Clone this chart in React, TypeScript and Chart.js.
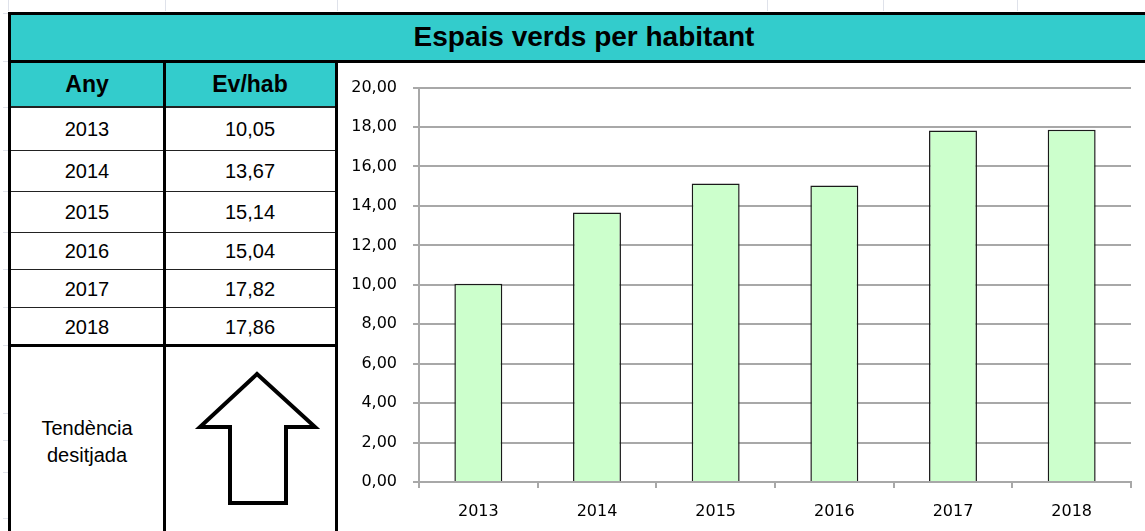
import React, { useEffect, useRef } from "react";
import { Chart, registerables } from "chart.js";

Chart.register(...registerables);

const title = "Espais verds per habitant";
const headerYear = "Any";
const headerValue = "Ev/hab";
const years = ["2013", "2014", "2015", "2016", "2017", "2018"];
const values = [10.05, 13.67, 15.14, 15.04, 17.82, 17.86];
const trendLabel = ["Tendència", "desitjada"];
const yMin = 0;
const yMax = 20;
const yStep = 2;

const fmt = (v: number) => v.toFixed(2).replace(".", ",");

const TABLE_FONT = "'Liberation Sans', Arial, sans-serif";
const CHART_FONT = "'DejaVu Sans', Verdana, sans-serif";
const TEAL = "#33CCCC";

const rowEdges = [107, 150, 191, 232, 269, 307, 345];

function Line(props: { x: number; y: number; w: number; h: number; c?: string }) {
  return (
    <div
      style={{
        position: "absolute",
        left: props.x,
        top: props.y,
        width: props.w,
        height: props.h,
        background: props.c || "#000",
      }}
    />
  );
}

function Cell(props: {
  x: number;
  y: number;
  w: number;
  h: number;
  children: React.ReactNode;
  size: number;
  bold?: boolean;
  lh?: number;
  pt?: number;
}) {
  return (
    <div
      style={{
        position: "absolute",
        left: props.x,
        top: props.y,
        width: props.w,
        height: props.h,
        boxSizing: "border-box",
        paddingTop: props.pt || 0,
        display: "flex",
        alignItems: "center",
        justifyContent: "center",
        textAlign: "center",
        fontFamily: TABLE_FONT,
        fontSize: props.size,
        fontWeight: props.bold ? 700 : 400,
        lineHeight: props.lh ? props.lh + "px" : "normal",
        color: "#000",
        whiteSpace: "nowrap",
      }}
    >
      {props.children}
    </div>
  );
}

export default function App() {
  const canvasRef = useRef<HTMLCanvasElement | null>(null);

  useEffect(() => {
    if (!canvasRef.current) return;
    const chart = new Chart(canvasRef.current, {
      type: "bar",
      data: {
        labels: years,
        datasets: [
          {
            data: values,
            backgroundColor: "#CCFFCC",
            borderColor: "#1a1a1a",
            borderWidth: 1.5,
            barPercentage: 0.404,
            categoryPercentage: 1,
          },
        ],
      },
      options: {
        responsive: false,
        animation: false,
        devicePixelRatio: 1,
        layout: { padding: { top: 25, right: 14, left: 0, bottom: 0 } },
        plugins: {
          legend: { display: false },
          tooltip: { enabled: false },
          title: { display: false },
        },
        scales: {
          x: {
            offset: true,
            grid: {
              display: true,
              offset: true,
              drawOnChartArea: false,
              drawTicks: true,
              tickLength: 6,
              color: "#a8a8a8",
              lineWidth: 2,
            },
            border: { display: true, color: "#a8a8a8", width: 2 },
            ticks: {
              font: { family: CHART_FONT, size: 16 },
              color: "#000",
              padding: 14,
              maxRotation: 0,
            },
            afterFit: (scale: any) => {
              scale.height = 49;
            },
          },
          y: {
            min: yMin,
            max: yMax,
            grid: {
              color: "#a8a8a8",
              lineWidth: 2,
              tickLength: 6,
              drawTicks: true,
            },
            border: { display: true, color: "#a8a8a8", width: 2 },
            ticks: {
              stepSize: yStep,
              font: { family: CHART_FONT, size: 16 },
              color: "#000",
              padding: 16,
              callback: (v: any) => fmt(Number(v)),
            },
            afterFit: (scale: any) => {
              scale.width = 81;
            },
          },
        },
      },
    });
    return () => chart.destroy();
  }, []);

  const faint = "#dfe2ea";

  return (
    <div
      style={{
        position: "absolute",
        left: 0,
        top: 0,
        width: 1145,
        height: 531,
        overflow: "hidden",
        background: "#fff",
      }}
    >
      {/* faint spreadsheet marks */}
      {[8, 165, 337, 767, 883, 1017].map((x) => (
        <Line key={"v" + x} x={x} y={0} w={1} h={11} c={faint} />
      ))}
      {[13, 61, 107, 150, 191, 232, 269, 307, 345, 413, 440, 472, 518].map((y) => (
        <Line key={"h" + y} x={3} y={y} w={5} h={1} c={faint} />
      ))}

      {/* title bar */}
      <div
        style={{
          position: "absolute",
          left: 8,
          top: 12,
          width: 1160,
          height: 50,
          background: TEAL,
        }}
      />
      <div
        style={{
          position: "absolute",
          left: 384,
          top: 14,
          width: 400,
          height: 46,
          display: "flex",
          alignItems: "center",
          justifyContent: "center",
          fontFamily: TABLE_FONT,
          fontWeight: 700,
          fontSize: 28,
          color: "#000",
          whiteSpace: "nowrap",
        }}
      >
        {title}
      </div>

      {/* header cells */}
      <div style={{ position: "absolute", left: 8, top: 62, width: 328, height: 45, background: TEAL }} />
      <Cell x={11} y={62} w={152} h={45} size={23} bold>
        {headerYear}
      </Cell>
      <Cell x={165} y={62} w={170} h={45} size={23} bold>
        {headerValue}
      </Cell>

      {/* data rows */}
      {years.map((yr, i) => {
        const top = rowEdges[i];
        const h = rowEdges[i + 1] - rowEdges[i];
        return (
          <React.Fragment key={yr}>
            <Cell x={11} y={top} w={152} h={h} size={20} pt={2}>
              {yr}
            </Cell>
            <Cell x={165} y={top} w={170} h={h} size={20} pt={2}>
              {fmt(values[i])}
            </Cell>
          </React.Fragment>
        );
      })}

      {/* trend cell */}
      <Cell x={11} y={346} w={152} h={185} size={20} lh={27} pt={6}>
        <div>
          {trendLabel[0]}
          <br />
          {trendLabel[1]}
        </div>
      </Cell>
      <svg
        style={{ position: "absolute", left: 165, top: 346 }}
        width={170}
        height={185}
      >
        <polygon
          points={[
            [257, 374],
            [315, 427],
            [286, 427],
            [286, 503],
            [230, 503],
            [230, 427],
            [200, 427],
          ]
            .map(([x, y]) => `${x - 165},${y - 346}`)
            .join(" ")}
          fill="#fff"
          stroke="#000"
          strokeWidth={4}
          strokeLinejoin="miter"
        />
      </svg>

      {/* borders */}
      <Line x={8} y={12} w={1150} h={3} />
      <Line x={8} y={60} w={1150} h={2.5} />
      <Line x={8} y={106} w={328} h={2} c="#222" />
      {rowEdges.slice(1, 6).map((y) => (
        <Line key={"r" + y} x={8} y={y - 0.5} w={328} h={1.5} c="#222" />
      ))}
      <Line x={8} y={344} w={328} h={2.5} />
      <Line x={8} y={12} w={3} h={531} />
      <Line x={163} y={61} w={2.5} h={480} />
      <Line x={335} y={61} w={3} h={480} />

      {/* chart */}
      <canvas
        ref={canvasRef}
        width={807}
        height={469}
        style={{ position: "absolute", left: 338, top: 62, width: 807, height: 469 }}
      />
    </div>
  );
}
